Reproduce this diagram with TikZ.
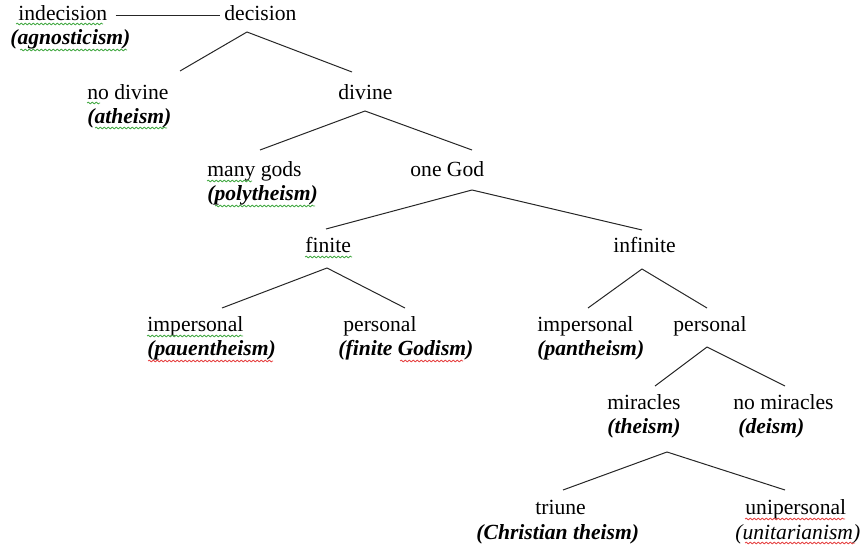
\documentclass[tikz,border=0pt]{standalone}
\usepackage{fontspec}
\setmainfont{Liberation Serif}
\usetikzlibrary{decorations.pathmorphing}
\definecolor{spellgreen}{RGB}{70,170,70}
\definecolor{spellred}{RGB}{230,70,70}
\tikzstyle{choice} = [anchor=base west, inner sep=0pt, text height=7.5pt, text depth=2.2pt, font=\fontsize{10.8}{13}\selectfont]
\tikzstyle{ism} = [choice, font=\fontsize{10.8}{13}\selectfont\bfseries\itshape]
\tikzstyle{branch} = [draw=black!85, line width=0.5pt]
\tikzstyle{squiggle} = [decorate, decoration={snake, amplitude=0.45pt, segment length=2pt}, line width=0.4pt]

\begin{document}
\begin{tikzpicture}[x=0.5pt, y=-0.5pt]
    \useasboundingbox (0,0) rectangle (862,550);
    \node (indec) [choice] at (18,21) {indecision};
    \node (agnos) [ism] at (10,45) {(agnosticism)};
    \node (dec) [choice] at (224,21) {decision};
    \node (nodiv) [choice] at (87,100) {no divine};
    \node (athe) [ism] at (87,124) {(atheism)};
    \node (div) [choice] at (338,100) {divine};
    \node (many) [choice] at (207,177) {many gods};
    \node (poly) [ism] at (207,201) {(polytheism)};
    \node (onegod) [choice] at (410,177) {one God};
    \node (fin) [choice] at (305,253) {finite};
    \node (infin) [choice] at (613,253) {infinite};
    \node (fimp) [choice] at (147,332) {impersonal};
    \node (panen) [ism] at (147,356) {(pauentheism)};
    \node (fpers) [choice] at (343,332) {personal};
    \node (fgod) [ism] at (338,356) {(finite Godism)};
    \node (iimp) [choice] at (537,332) {impersonal};
    \node (panth) [ism] at (537,356) {(pantheism)};
    \node (ipers) [choice] at (673,332) {personal};
    \node (mir) [choice] at (607,410) {miracles};
    \node (theis) [ism] at (607,434) {(theism)};
    \node (nomir) [choice] at (733,410) {no miracles};
    \node (deis) [ism] at (738,434) {(deism)};
    \node (triune) [choice] at (535,515) {triune};
    \node (christ) [ism] at (476,539) {(Christian theism)};
    \node (unip) [choice] at (745,515) {unipersonal};
    \node (unit) [choice, font=\fontsize{10.8}{13}\selectfont\itshape] at (735,539) {(unitarianism)};

    \coordinate (dec-fork) at (247,32);
    \coordinate (nodiv-top) at (180,71);
    \coordinate (div-top) at (352,72);
    \coordinate (div-fork) at (365,111);
    \coordinate (many-top) at (260,150);
    \coordinate (onegod-top) at (472,150);
    \coordinate (onegod-fork) at (472,190);
    \coordinate (fin-top) at (326,229);
    \coordinate (infin-top) at (642,230);
    \coordinate (fin-fork) at (327,268);
    \coordinate (fimp-top) at (222,308);
    \coordinate (fpers-top) at (405,308);
    \coordinate (infin-fork) at (642,269);
    \coordinate (iimp-top) at (588,308);
    \coordinate (ipers-top) at (707,308);
    \coordinate (ipers-fork) at (707,347);
    \coordinate (mir-top) at (655,386);
    \coordinate (nomir-top) at (785,386);
    \coordinate (mir-fork) at (667,452);
    \coordinate (triune-top) at (563,490);
    \coordinate (unip-top) at (785,490);

    \draw [branch, shorten <=4pt, shorten >=2pt] (indec.east) -- (dec.west);
    \draw [branch] (dec-fork) -- (nodiv-top);
    \draw [branch] (dec-fork) -- (div-top);
    \draw [branch] (div-fork) -- (many-top);
    \draw [branch] (div-fork) -- (onegod-top);
    \draw [branch] (onegod-fork) -- (fin-top);
    \draw [branch] (onegod-fork) -- (infin-top);
    \draw [branch] (fin-fork) -- (fimp-top);
    \draw [branch] (fin-fork) -- (fpers-top);
    \draw [branch] (infin-fork) -- (iimp-top);
    \draw [branch] (infin-fork) -- (ipers-top);
    \draw [branch] (ipers-fork) -- (mir-top);
    \draw [branch] (ipers-fork) -- (nomir-top);
    \draw [branch] (mir-fork) -- (triune-top);
    \draw [branch] (mir-fork) -- (unip-top);

    % spell check marks
    \draw [squiggle, spellgreen] (16,24) -- (103,24);
    \draw [squiggle, spellgreen] (20,50) -- (127,50);
    \draw [squiggle, spellgreen] (87,103) -- (100,103);
    \draw [squiggle, spellgreen] (95,128) -- (167,128);
    \draw [squiggle, spellgreen] (207,181) -- (252,181);
    \draw [squiggle, spellgreen] (215,206) -- (315,206);
    \draw [squiggle, spellgreen] (305,257) -- (352,257);
    \draw [squiggle, spellgreen] (147,336) -- (243,336);
    \draw [squiggle, spellred] (148,361) -- (273,361);
    \draw [squiggle, spellred] (400,361) -- (463,361);
    \draw [squiggle, spellred] (745,519) -- (845,519);
    \draw [squiggle, spellred] (745,543) -- (855,543);
\end{tikzpicture}
\end{document}
